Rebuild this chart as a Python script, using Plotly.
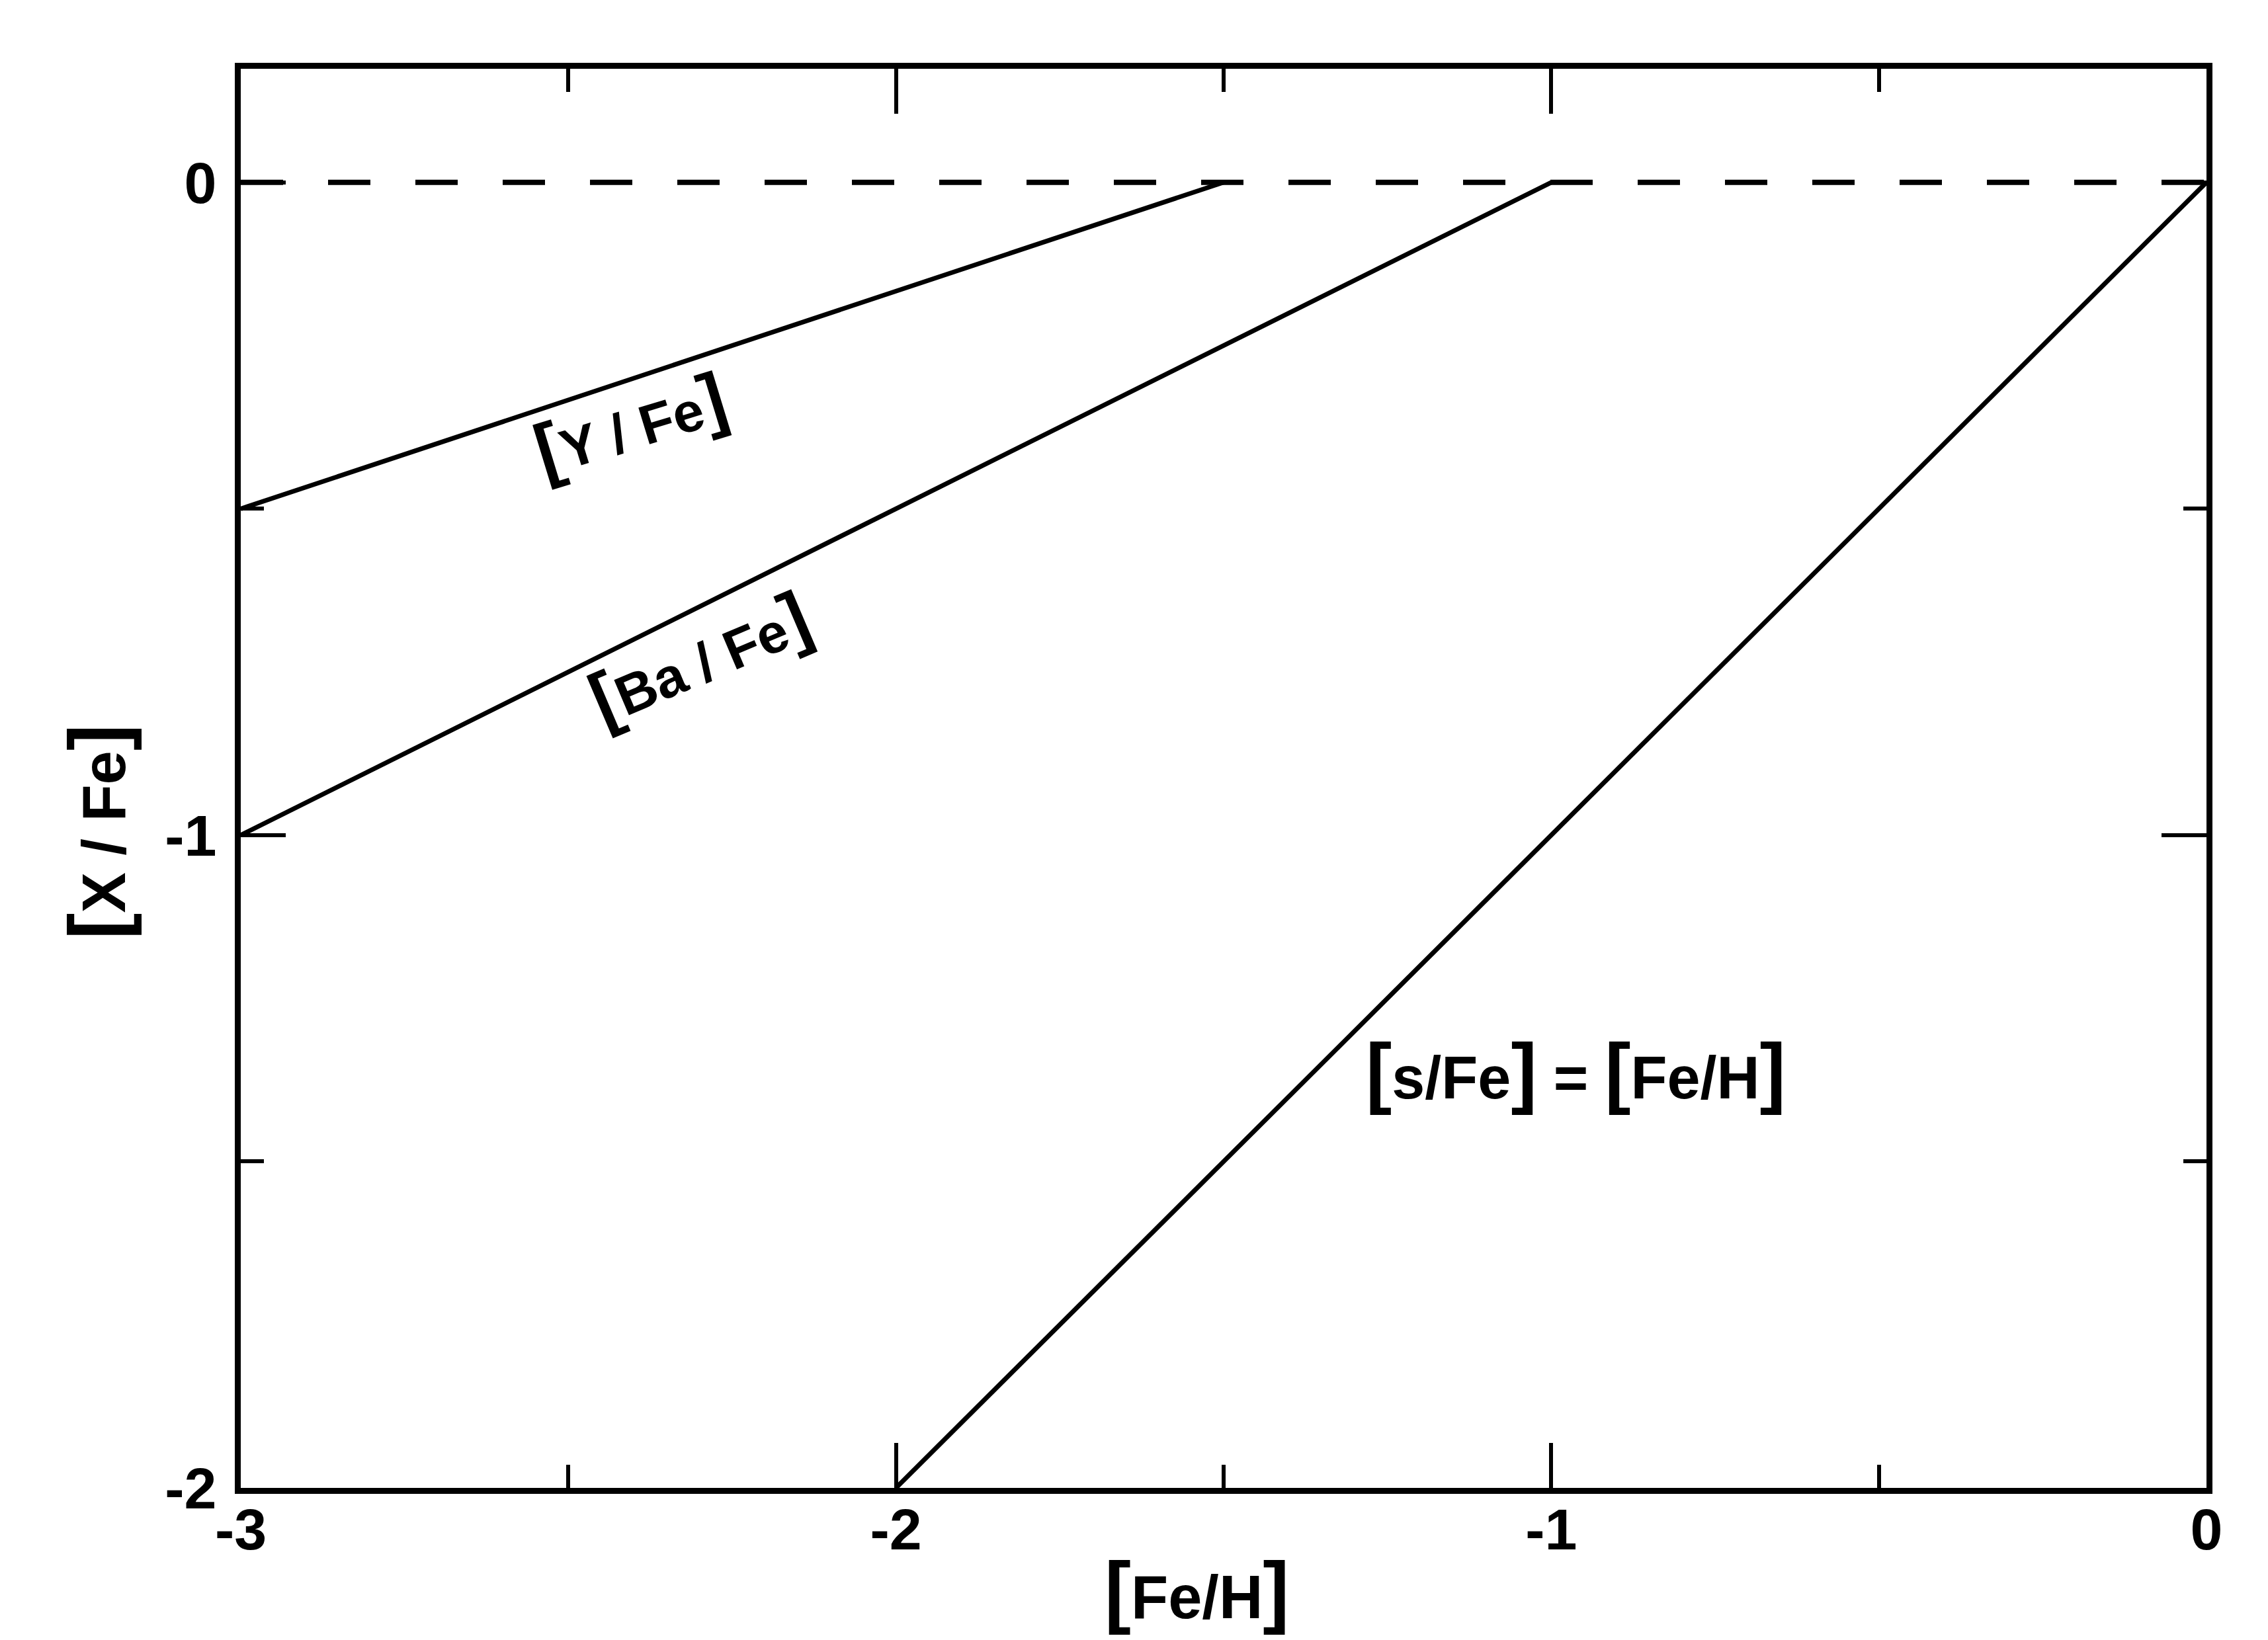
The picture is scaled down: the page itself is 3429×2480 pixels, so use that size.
import plotly.graph_objects as go

# ---- data ----
feh_y = [-3.0, -1.5]
yfe = [-0.5, 0.0]

feh_ba = [-3.0, -1.0]
bafe = [-1.0, 0.0]

feh_s = [-2.0, 0.0]
sfe = [-2.0, 0.0]

feh_solar = [-3.0, 0.0]
solar = [0.0, 0.0]

x_tickvals = [-3, -2, -1, 0]
x_ticktext = ["-3", "-2", "-1", "0"]
y_tickvals = [0, -1, -2]
y_ticktext = ["0", "-1", "-2"]

label_y = "[Y / Fe]"
label_ba = "[Ba / Fe]"
label_s = "[s/Fe] = [Fe/H]"
x_title = "[Fe/H]"
y_title = "[X / Fe]"

# ---- style ----
BLACK = "#000000"
LABEL_FONT = "Liberation Sans, Arial, DejaVu Sans, sans-serif"
TICK_FONT = "Liberation Sans, Arial, sans-serif"


def big_brackets(text, size):
    s = f'<span style="font-size:{size}px">'
    return text.replace("[", s + "[</span>").replace("]", s + "]</span>")


fig = go.Figure()

fig.add_trace(go.Scatter(x=feh_solar, y=solar, mode="lines",
                         line=dict(color=BLACK, width=8, dash="64px,68px"),
                         hoverinfo="skip", showlegend=False))
for xs, ys in [(feh_y, yfe), (feh_ba, bafe), (feh_s, sfe)]:
    fig.add_trace(go.Scatter(x=xs, y=ys, mode="lines",
                             line=dict(color=BLACK, width=7),
                             hoverinfo="skip", showlegend=False))

ann_font = dict(family=LABEL_FONT, size=84, color=BLACK, weight="bold")
fig.add_annotation(x=-2.405, y=-0.37, xref="x", yref="y", text=big_brackets(label_y, 110),
                   showarrow=False, textangle=-17, font=ann_font)
fig.add_annotation(x=-2.30, y=-0.728, xref="x", yref="y", text=big_brackets(label_ba, 110),
                   showarrow=False, textangle=-23, font=ann_font)
fig.add_annotation(x=-0.962, y=-1.362, xref="x", yref="y", text=big_brackets(label_s, 118),
                   showarrow=False, font=dict(family=LABEL_FONT, size=90, color=BLACK, weight="bold"))

# axis titles
title_font = dict(family=LABEL_FONT, size=92, color=BLACK, weight="bold")
fig.add_annotation(x=0.4865, y=-0.072, xref="paper", yref="paper", xanchor="center", yanchor="middle",
                   text=big_brackets(x_title, 120), showarrow=False, font=title_font)
fig.add_annotation(x=-0.073, y=0.462, xref="paper", yref="paper", xanchor="center", yanchor="middle",
                   text=big_brackets(y_title, 120), showarrow=False, textangle=-90, font=title_font)

axis_common = dict(
    showline=True, linecolor=BLACK, linewidth=9, mirror="ticks",
    ticks="inside", ticklen=68, tickwidth=6, tickcolor=BLACK,
    showgrid=False, zeroline=False,
    tickfont=dict(family=TICK_FONT, size=88, color=BLACK, weight="bold"),
    minor=dict(dtick=0.5, ticks="inside", ticklen=35, tickwidth=6,
               tickcolor=BLACK, showgrid=False),
)

fig.update_xaxes(range=[-3, 0], tickmode="array", tickvals=x_tickvals, ticktext=x_ticktext,
                 ticklabelstandoff=-22, **axis_common)
fig.update_yaxes(range=[-2, 0.174], tickmode="array", tickvals=y_tickvals, ticktext=y_ticktext,
                 ticklabelstandoff=10, **axis_common)

fig.update_layout(
    width=3429, height=2480,
    margin=dict(l=356, r=101, t=96, b=238, autoexpand=False),
    paper_bgcolor="white", plot_bgcolor="white",
    showlegend=False,
)

fig.write_html("out.html")
